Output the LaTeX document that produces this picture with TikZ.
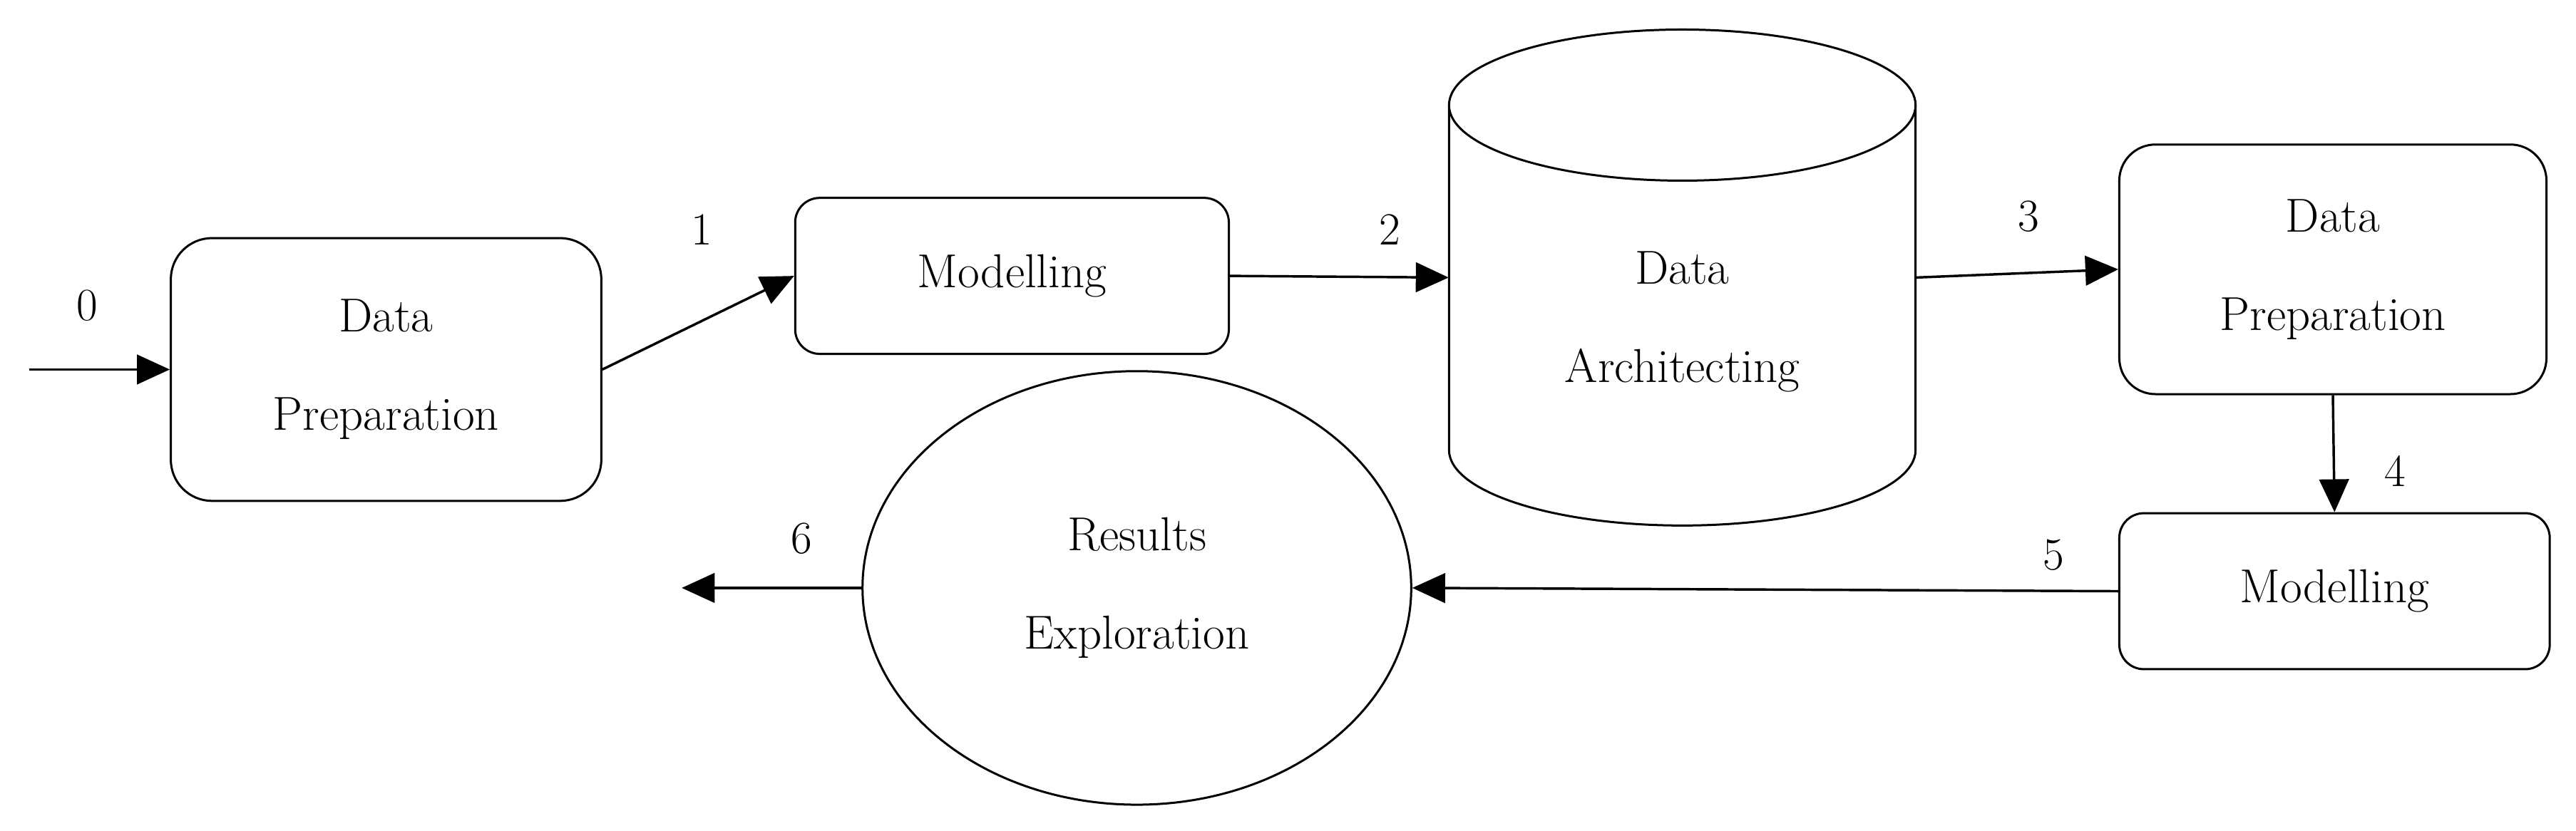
\documentclass[tikz,border=0pt]{standalone}
\usetikzlibrary{arrows.meta,shapes.geometric}
\begin{document}
\begin{tikzpicture}[x=1pt,y=-1pt,
  txt/.style={font=\fontsize{29}{60}\selectfont,align=center},
  box/.style={draw,line width=1.3pt,rounded corners=#1,txt},
  arr/.style={line width=1.5pt,-{Triangle[length=20pt,width=18pt]}},
  lab/.style={font=\fontsize{28}{32}\selectfont}]
\useasboundingbox (0,0) rectangle (1568,506);
\node[box=25pt,minimum width=262pt,minimum height=160pt] (dp1) at (235,225) {Data\\Preparation};
\node[box=15pt,minimum width=264pt,minimum height=95pt] (m1) at (616,168) {Modelling};
\node[box=22pt,minimum width=260pt,minimum height=152pt] (dp2) at (1420,164) {Data\\Preparation};
\node[box=15pt,minimum width=262pt,minimum height=95pt] (m2) at (1421,360) {Modelling};
\node[draw,ellipse,line width=1.3pt,minimum width=334pt,minimum height=264pt,txt] (re) at (692,358) {Results\\Exploration};
% cylinder
\node[minimum width=284pt,minimum height=302pt,inner sep=0pt] (cyl) at (1024,169) {};
\draw[line width=1.3pt] (882,64) -- (882,274) arc[start angle=180,end angle=360,x radius=142pt,y radius=46pt] -- (1166,64);
\draw[line width=1.3pt] (1024,64) ellipse[x radius=142pt,y radius=46pt];
\node[txt] at (1024,196) {Data\\Architecting};
\coordinate (s0) at (18,225);
\coordinate (e6) at (415,358);
\draw[arr] (s0) -- (dp1.west);
\draw[arr] (dp1.east) -- (m1.west);
\draw[arr] (m1.east) -- (cyl.west);
\draw[arr] (cyl.east) -- (dp2.west);
\draw[arr] (dp2.south) -- (m2.north);
\draw[arr] (m2.west) -- (re.east);
\draw[arr] (re.west) -- (e6);
\node[lab] (l0) at (53,186) {0};
\node[lab] (l1) at (427,140) {1};
\node[lab] (l2) at (846,140) {2};
\node[lab] (l3) at (1235,132) {3};
\node[lab] (l4) at (1458,287) {4};
\node[lab] (l5) at (1250,338) {5};
\node[lab] (l6) at (488,328) {6};
\end{tikzpicture}
\end{document}
